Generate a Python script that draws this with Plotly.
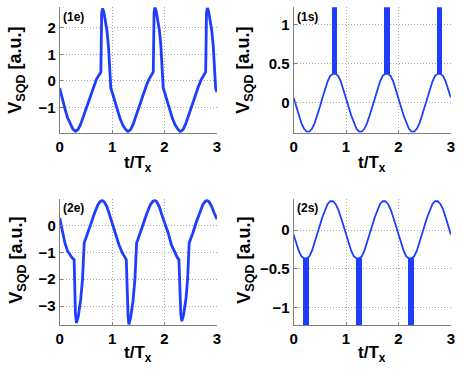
import plotly.graph_objects as go

# ---- data ----
# panel (1e): measured V_SQD vs t/T_x
t_1e = [0, 0.05, 0.1, 0.15, 0.2, 0.25, 0.3, 0.35, 0.4, 0.45, 0.5, 0.55, 0.6, 0.65, 0.7, 0.75,
        0.785, 0.8, 0.815, 0.84, 0.87, 0.9, 0.93, 0.955, 0.975,
        1.0, 1.05, 1.1, 1.15, 1.2, 1.25, 1.3, 1.35, 1.4, 1.45, 1.5, 1.55, 1.6, 1.65, 1.7, 1.75,
        1.785, 1.8, 1.815, 1.84, 1.87, 1.9, 1.93, 1.955, 1.975,
        2.0, 2.05, 2.1, 2.15, 2.2, 2.25, 2.3, 2.35, 2.4, 2.45, 2.5, 2.55, 2.6, 2.65, 2.7, 2.75,
        2.785, 2.8, 2.815, 2.84, 2.87, 2.9, 2.93, 2.955, 2.975, 3.0]
v_1e = [-0.27, -0.7, -1.05, -1.38, -1.62, -1.8, -1.89, -1.82, -1.62, -1.33, -1.02, -0.72, -0.45, -0.18, 0.06, 0.22,
        0.33, 2.5, 2.72, 2.6, 2.3, 1.9, 1.3, 0.55, -0.27,
        -0.42, -0.78, -1.1, -1.4, -1.64, -1.8, -1.9, -1.83, -1.63, -1.34, -1.03, -0.73, -0.46, -0.19, 0.05, 0.22,
        0.34, 2.55, 2.76, 2.63, 2.32, 1.92, 1.32, 0.55, -0.27,
        -0.42, -0.78, -1.1, -1.4, -1.64, -1.8, -1.9, -1.83, -1.63, -1.34, -1.03, -0.73, -0.46, -0.19, 0.05, 0.22,
        0.34, 2.52, 2.74, 2.62, 2.3, 1.9, 1.3, 0.55, -0.27, -0.42]

# panel (2e)
t_2e = [0, 0.045, 0.1, 0.15, 0.2, 0.24, 0.275, 0.3, 0.32, 0.355, 0.4, 0.435, 0.467, 0.49, 0.54, 0.6,
        0.665, 0.73, 0.78, 0.81, 0.85, 0.9, 0.95,
        1.0, 1.07, 1.13, 1.195, 1.245, 1.27, 1.305, 1.32, 1.355, 1.4, 1.435, 1.467, 1.49, 1.54, 1.6,
        1.665, 1.73, 1.78, 1.815, 1.85, 1.9, 1.95,
        2.0, 2.07, 2.13, 2.195, 2.245, 2.275, 2.31, 2.33, 2.365, 2.41, 2.44, 2.47, 2.495, 2.54, 2.6,
        2.665, 2.73, 2.78, 2.81, 2.85, 2.9, 2.95, 3.0]
v_2e = [0.27, -0.16, -0.66, -0.95, -1.12, -1.21, -1.27, -3.3, -3.62, -3.37, -2.75, -2.0, -0.65, -0.53, -0.28, 0.09,
        0.46, 0.77, 0.9, 0.93, 0.87, 0.7, 0.4,
        0.09, -0.28, -0.72, -1.02, -1.21, -1.27, -3.4, -3.68, -3.4, -2.78, -2.0, -0.65, -0.53, -0.28, 0.09,
        0.46, 0.77, 0.9, 0.93, 0.88, 0.7, 0.38,
        0.09, -0.28, -0.72, -1.02, -1.2, -1.27, -3.3, -3.56, -3.3, -2.7, -2.0, -0.65, -0.53, -0.28, 0.09,
        0.46, 0.77, 0.9, 0.93, 0.88, 0.7, 0.45, 0.23]

# panels (1s) and (2s): simulated traces, sampled every 0.05 T_x
t_s = [round(0.05 * i, 2) for i in range(61)]
v_1s = [0.06, -0.06, -0.17, -0.27, -0.34, -0.375, -0.375, -0.34, -0.27, -0.17,
        -0.06, 0.06, 0.17, 0.27, 0.34, 0.365, 0.365, 0.34, 0.27, 0.17,
        0.06, -0.06, -0.17, -0.27, -0.34, -0.375, -0.375, -0.34, -0.27, -0.17,
        -0.06, 0.06, 0.17, 0.27, 0.34, 0.365, 0.365, 0.34, 0.27, 0.17,
        0.06, -0.06, -0.17, -0.27, -0.34, -0.375, -0.375, -0.34, -0.27, -0.17,
        -0.06, 0.06, 0.17, 0.27, 0.34, 0.365, 0.365, 0.34, 0.27, 0.17, 0.06]
v_2s = [-0.06, -0.17, -0.27, -0.34, -0.365, -0.365, -0.34, -0.27, -0.17, -0.06,
        0.06, 0.17, 0.27, 0.34, 0.375, 0.375, 0.34, 0.27, 0.17, 0.06,
        -0.06, -0.17, -0.27, -0.34, -0.365, -0.365, -0.34, -0.27, -0.17, -0.06,
        0.06, 0.17, 0.27, 0.34, 0.375, 0.375, 0.34, 0.27, 0.17, 0.06,
        -0.06, -0.17, -0.27, -0.34, -0.365, -0.365, -0.34, -0.27, -0.17, -0.06,
        0.06, 0.17, 0.27, 0.34, 0.375, 0.375, 0.34, 0.27, 0.17, 0.06, -0.06]

# fast switching bursts (drawn as solid bands)
band_1s_start = [0.72, 1.72, 2.72]
band_1s_end = [0.825, 1.825, 2.825]
band_1s_low, band_1s_high = 0.365, 1.3
band_2s_start = [0.175, 1.175, 2.175]
band_2s_end = [0.29, 1.29, 2.29]
band_2s_low, band_2s_high = -1.3, -0.365

x_ticks = [0, 1, 2, 3]
y_ticks_1e = [-1, 0, 1, 2]
y_ticks_1s = [0, 0.5, 1]
y_ticks_2e = [-3, -2, -1, 0]
y_ticks_2s = [-1, -0.5, 0]
panel_names = ["(1e)", "(1s)", "(2e)", "(2s)"]

# ---- figure ----
W, H = 463, 375
BLUE = "#1f3dff"
FONT = "Liberation Sans"


def dx(a, b):
    return [a / W, b / W]


def dy(top, bottom):
    return [1 - bottom / H, 1 - top / H]


fig = go.Figure()

fig.add_trace(go.Scatter(x=t_1e, y=v_1e, mode="lines", line=dict(color=BLUE, width=2.8),
                         xaxis="x", yaxis="y"))
fig.add_trace(go.Scatter(x=t_s, y=v_1s, mode="lines", line=dict(color=BLUE, width=1.8),
                         xaxis="x2", yaxis="y2"))
fig.add_trace(go.Bar(x=[(a + b) / 2 for a, b in zip(band_1s_start, band_1s_end)],
                     width=[b - a for a, b in zip(band_1s_start, band_1s_end)],
                     y=[band_1s_high - band_1s_low] * 3, base=band_1s_low,
                     marker=dict(color=BLUE, line=dict(width=0)), xaxis="x2", yaxis="y2"))
fig.add_trace(go.Scatter(x=t_2e, y=v_2e, mode="lines", line=dict(color=BLUE, width=2.8),
                         xaxis="x3", yaxis="y3"))
fig.add_trace(go.Scatter(x=t_s, y=v_2s, mode="lines", line=dict(color=BLUE, width=1.8),
                         xaxis="x4", yaxis="y4"))
fig.add_trace(go.Bar(x=[(a + b) / 2 for a, b in zip(band_2s_start, band_2s_end)],
                     width=[b - a for a, b in zip(band_2s_start, band_2s_end)],
                     y=[band_2s_high - band_2s_low] * 3, base=band_2s_low,
                     marker=dict(color=BLUE, line=dict(width=0)), xaxis="x4", yaxis="y4"))

tickfont = dict(family=FONT, size=15, color="black", weight="bold")
common = dict(showgrid=True, gridcolor="#a8a8a8", griddash="1px,2px", gridwidth=1,
              showline=True, linecolor="#7f7f7f", linewidth=1, zeroline=False,
              ticks="inside", ticklen=3, tickcolor="#7f7f7f", tickfont=tickfont,
              ticklabeloverflow="allow")

left, right = dx(56.7, 216.7), dx(294.7, 454.7)
top, bottom = dy(7.3, 132.7), dy(199.3, 325)

layout_axes = {}
specs = [("", left, top, [-1.94, 2.76], y_ticks_1e),
         ("2", right, top, [-0.39, 1.22], y_ticks_1s),
         ("3", left, bottom, [-3.7, 0.97], y_ticks_2e),
         ("4", right, bottom, [-1.23, 0.4], y_ticks_2s)]
for sid, xd, yd, yr, yt in specs:
    layout_axes["xaxis" + sid] = dict(domain=xd, range=[0, 3], tickvals=x_ticks,
                                      anchor="y" + sid, **common)
    layout_axes["yaxis" + sid] = dict(domain=yd, range=yr, tickvals=yt,
                                      anchor="x" + sid, **common)

annotations = []
title_font = dict(family=FONT, size=18, color="black", weight="bold")
# y titles and x titles
for xc, yc in [(13, 70), (245, 70), (13, 260), (245, 260)]:
    annotations.append(dict(text="V<sub>SQD</sub> [a.u.]", x=xc / W, y=1 - yc / H,
                            xref="paper", yref="paper", textangle=-90, showarrow=False,
                            xanchor="center", yanchor="middle", font=title_font))
for xc, yc in [(136.7, 164), (374.7, 164), (136.7, 354), (374.7, 354)]:
    annotations.append(dict(text="t/T<sub>x</sub>", x=xc / W, y=1 - yc / H,
                            xref="paper", yref="paper", showarrow=False,
                            xanchor="center", yanchor="middle",
                            font=dict(family=FONT, size=17, color="black", weight="bold")))
# panel tags
for name, (xl, yc) in zip(panel_names, [(58, 16.5), (296, 16.5), (58, 208), (296, 207.5)]):
    annotations.append(dict(text=name, x=xl / W, y=1 - yc / H, xref="paper", yref="paper",
                            showarrow=False, xanchor="left", yanchor="middle",
                            font=dict(family=FONT, size=12, color="black", weight="bold")))

fig.update_layout(width=W, height=H, margin=dict(l=0, r=0, t=0, b=0),
                  paper_bgcolor="white", plot_bgcolor="white", showlegend=False,
                  annotations=annotations, bargap=0, **layout_axes)

fig.write_html("out.html", config={"displayModeBar": False},
               post_script="document.body.style.margin='0px';")
